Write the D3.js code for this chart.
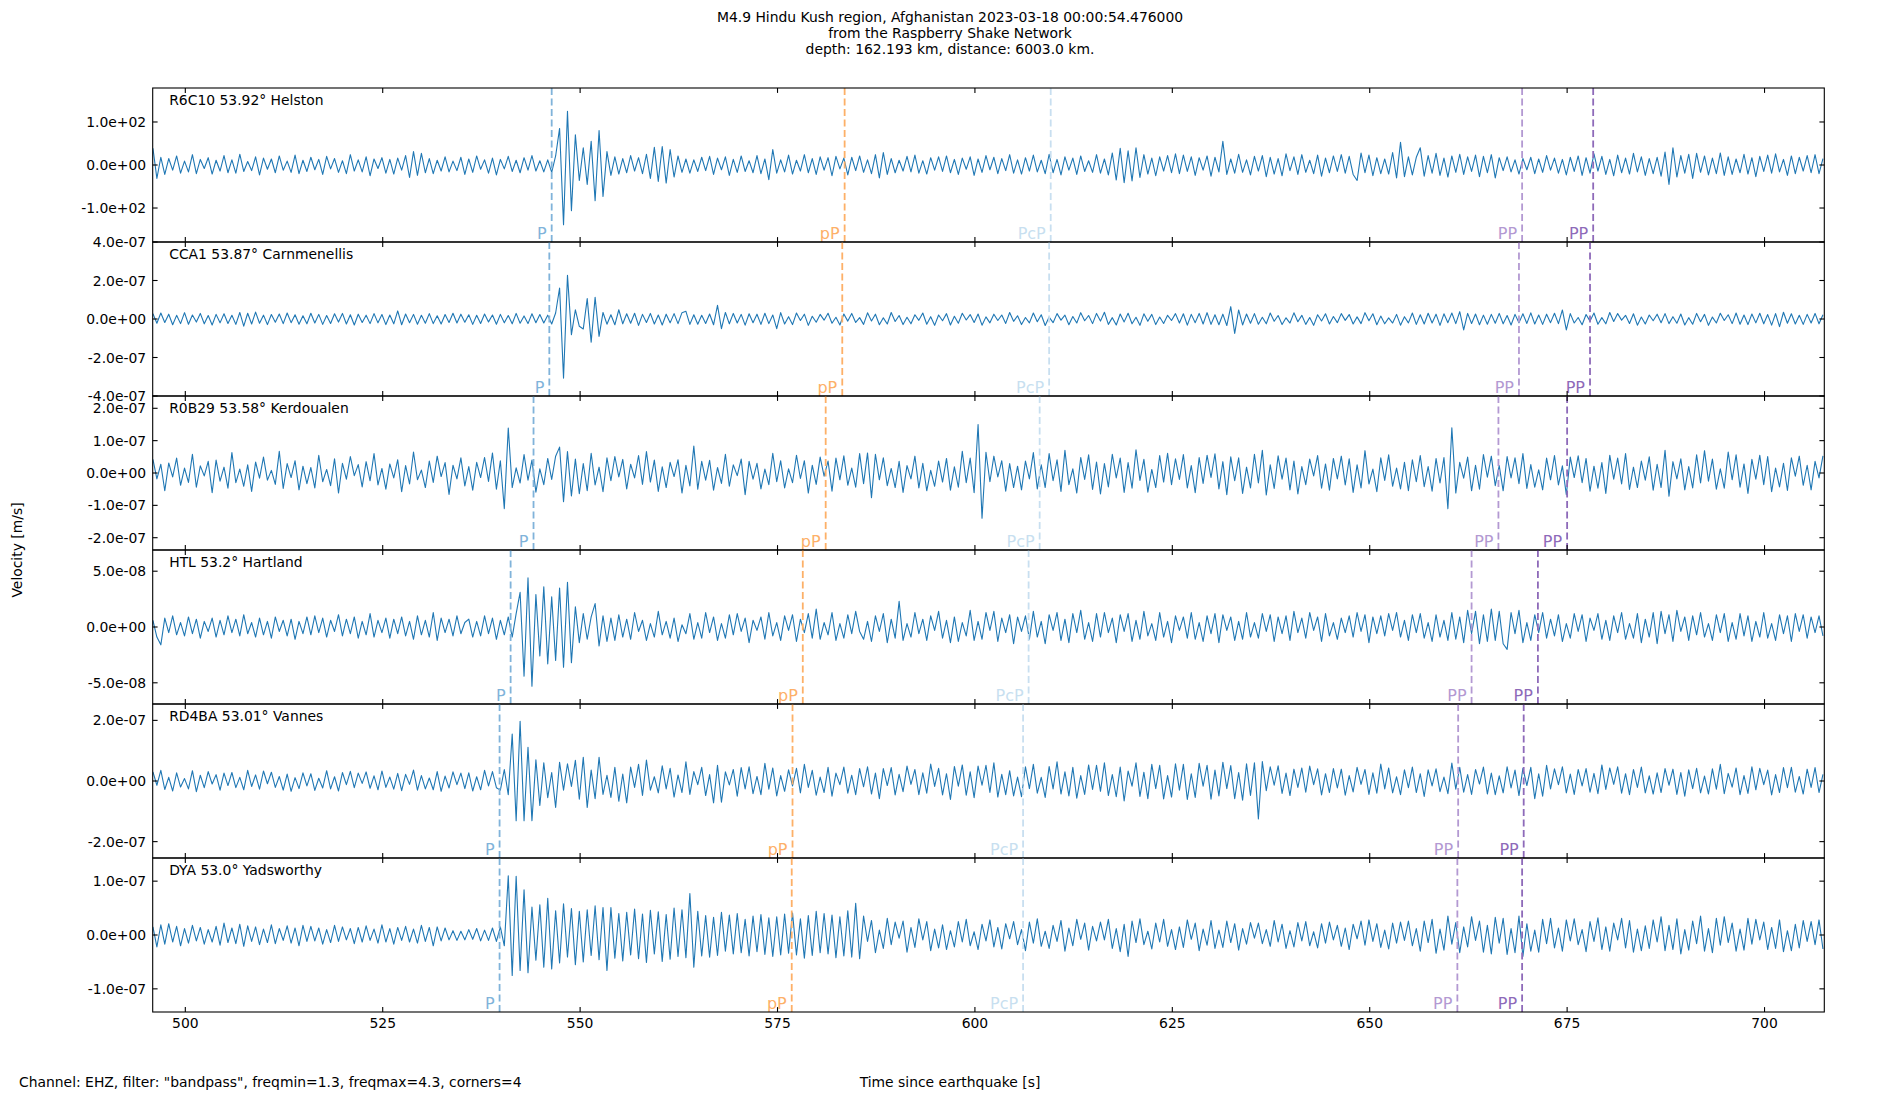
<!DOCTYPE html>
<html>
<head>
<meta charset="utf-8">
<script src="https://d3js.org/d3.v7.min.js"></script>
<style>
  body { margin: 0; background: #fff; }
  text { font-family: "DejaVu Sans", sans-serif; fill: #000; }
</style>
</head>
<body>
<div id="chart"></div>
<script>
// ---- data ----
var titleLines = ["M4.9 Hindu Kush region, Afghanistan 2023-03-18 00:00:54.476000",
                  "from the Raspberry Shake Network",
                  "depth: 162.193 km, distance: 6003.0 km."];
var stations  = ["R6C10", "CCA1", "R0B29", "HTL", "RD4BA", "DYA"];
var distances = ["53.92", "53.87", "53.58", "53.2", "53.01", "53.0"];
var places    = ["Helston", "Carnmenellis", "Kerdoualen", "Hartland", "Vannes", "Yadsworthy"];

// trace values: R6C10 in raw units, the others in nm/s (x 1e-9 m/s)
var unitScale = [1, 1e-9, 1e-9, 1e-9, 1e-9, 1e-9];
var yLimits   = [179, 400, 238, 69, 254, 143];
var yTicks    = [[-100, 0, 100], [-400, -200, 0, 200, 400], [-200, -100, 0, 100, 200],
                 [-50, 0, 50], [-200, 0, 200], [-100, 0, 100]];
var xTicks    = [500, 525, 550, 575, 600, 625, 650, 675, 700];
var xStart = 495.87, xEnd = 707.57;
var t0 = 495.9, dt = 0.5;

var phaseNames  = ["P", "pP", "PcP", "PP", "PP"];
var phaseColors = ["#80b3da", "#fdb068", "#c8dff0", "#b399d2", "#8e6ab9"];
var arrivals = [
  [546.4, 583.5, 609.6, 669.3, 678.3],
  [546.1, 583.2, 609.4, 668.9, 677.9],
  [544.1, 581.1, 608.2, 666.3, 675.0],
  [541.2, 578.2, 606.8, 662.9, 671.3],
  [539.8, 576.9, 606.1, 661.2, 669.5],
  [539.8, 576.8, 606.1, 661.1, 669.3]
];

var helston = [
  39,-31,18,-22,15,-12,21,-19,9,-16,24,-20,13,-8,17,-21,11,-14,22,-18,
  12,-19,25,-15,8,-13,19,-23,16,-10,14,-18,21,-12,9,-17,23,-20,11,-15,
  18,-11,13,-22,20,-9,15,-17,10,-20,24,-14,12,-16,19,-25,14,-8,17,-19,
  13,-21,16,-12,22,-29,31,-24,27,-18,15,-20,11,-14,19,-16,9,-13,18,-22,
  14,-17,21,-10,12,-19,16,-23,13,-9,20,-15,11,-18,17,-12,22,-14,10,-16,
  12,-17,21,85,-139,125,-106,70,-36,40,-45,55,-83,80,-73,31,-24,19,-21,15,
  -18,22,-14,17,-20,25,-31,41,-38,43,-42,36,-28,21,-17,14,-19,12,-15,18,
  -13,20,-22,16,-11,19,-24,13,-17,21,-15,10,-18,22,-20,14,-34,36,-19,12,
  -16,23,-21,11,-14,24,-18,15,-22,19,-12,17,-25,20,-9,16,-23,18,-13,21,
  -17,12,-20,24,-30,29,-22,15,-18,11,-14,20,-16,23,-19,10,-21,17,-12,19,
  -15,21,-18,13,-22,16,-10,19,-24,14,-17,22,-11,18,-20,15,-13,24,-19,12,
  -21,17,-14,23,-16,11,-20,25,-18,13,-23,19,-12,16,-22,21,-15,10,-17,24,
  -19,14,-23,28,-35,39,-41,33,-37,40,-29,24,-21,16,-25,19,-14,22,-18,26,
  -20,23,-15,19,-24,17,-12,21,-26,18,-16,55,-22,14,-19,25,-17,12,-23,20,
  -14,22,-27,18,-21,15,-25,26,-13,19,-22,24,-17,11,-20,23,-26,16,-18,21,
  -15,24,-19,20,-22,-36,28,-18,23,-25,17,-20,14,-21,29,-30,53,-27,19,-23,
  18,40,-26,22,-19,27,-24,16,-28,21,-17,25,-22,19,-15,23,-27,20,-18,24,
  -30,17,-13,19,-16,12,-21,15,-11,18,-20,14,-17,22,-12,16,-19,13,-23,18,
  -15,21,-24,17,-19,26,-14,20,-22,13,-25,23,-18,16,-21,27,-16,19,-24,15,
  -20,18,-26,30,-45,40,-28,22,-19,25,-31,27,-17,21,-23,16,-20,28,-24,19,
  -22,14,-18,25,-21,17,-27,20,-15,23,-19,26,-16,13,-24,21,-20,18,-14,22,
  -18,24,-20,15
];

var carnmenellis = [
  28,-22,31,-18,25,-30,19,-24,33,-27,21,-16,29,-25,18,-31,24,-20,27,-23,
  19,-28,34,-37,30,-26,36,-22,20,-29,23,-17,26,-24,31,-19,22,-27,17,-25,
  30,-21,24,-28,18,-23,27,-16,29,-26,22,-31,25,-18,20,-24,28,-20,23,-29,
  21,-25,42,-30,26,-19,24,-27,19,-22,28,-24,17,-26,23,-18,30,-21,25,-17,
  22,-28,19,-23,26,-15,21,-27,24,-20,18,-25,29,-22,16,-24,27,-19,23,-21,
  20,-26,31,161,-307,227,-81,48,-38,-52,106,-120,113,-90,34,-27,22,-30,48,-25,
  27,-22,30,-33,24,-18,29,-26,21,-31,25,-20,28,-24,33,40,-28,22,-27,19,
  -23,26,-30,71,-50,34,-25,29,-21,24,-32,27,-19,25,-28,30,-24,21,-50,33,
  -26,12,-29,31,-8,25,-33,14,-17,24,-6,30,-22,9,-31,26,-11,29,-18,7,
  -28,32,-10,25,-30,6,-26,34,-13,18,-29,9,-25,22,-7,31,-27,12,-33,21,
  -9,28,-31,14,-22,30,-5,23,-18,26,-32,11,-20,25,-8,21,-23,34,-12,17,
  -29,8,-20,31,-14,22,-34,10,-19,28,-6,20,-30,13,-21,33,-9,18,-24,29,
  -11,35,-28,7,-31,26,-15,30,-25,9,-33,27,-12,24,-29,10,-23,19,-8,28,
  -21,27,-32,24,-19,29,-26,33,-28,22,-30,25,-34,64,-75,47,-31,26,-22,28,
  -27,9,-25,31,-12,18,-29,6,-21,32,-14,19,-28,8,-33,22,-10,27,-26,13,
  -19,28,-7,23,-26,11,-24,33,-9,27,-30,15,-25,6,-21,24,-32,12,-20,31,
  -28,22,-26,30,-21,25,-33,27,-19,31,-24,38,-57,29,-23,26,-30,20,-27,24,
  -22,29,-25,18,-31,24,-20,27,-23,32,-26,21,-28,25,-19,30,-24,47,-57,28,
  -21,8,-30,23,-11,31,-27,7,-25,34,-13,28,-6,19,-23,27,-32,10,-26,21,
  -9,25,-19,28,-24,12,-22,26,-31,7,-27,29,-14,24,-33,10,-21,30,-8,22,
  -24,31,-27,21,-29,26,-20,30,-25,23,-32,28,-40,35,-22,27,-26,19,-28,24,
  -21,29,-25,22
];

var kerdoualen = [
  42,-18,27,-55,31,-12,46,-38,15,-29,58,-44,22,-9,36,-61,40,-25,18,-47,
  63,-30,12,-41,25,-57,34,-16,49,-22,8,-35,67,-48,29,-14,38,-52,21,-33,
  17,-46,55,-27,11,-39,44,-62,30,-19,51,-8,26,-43,35,-24,60,-37,14,-50,
  28,-15,41,-58,23,-34,65,-21,9,-45,37,-29,52,-11,32,-66,24,-18,47,-40,
  20,-53,33,-14,48,-26,62,-50,38,-110,139,-45,16,-31,57,-22,40,-59,13,-36,
  45,-20,52,80,-89,66,-71,43,-64,29,-55,61,-37,18,-58,47,-24,51,-12,42,
  -49,27,-15,54,-35,66,-28,40,-57,19,-45,33,-11,41,-62,24,-40,83,-50,36,
  -22,39,-53,17,-32,58,-41,25,-8,43,-67,36,-19,30,-49,12,-36,61,-27,38,
  -46,13,-30,55,-17,38,-62,24,-35,49,-10,37,-56,46,-21,53,-38,15,-44,60,
  -33,62,-76,58,-21,47,-39,14,-45,36,-60,23,-18,52,-46,30,-55,8,-41,37,
  -28,45,-53,19,-44,67,-30,46,-61,150,-140,64,-27,52,-12,38,-56,29,-45,21,
  -52,37,-18,63,-49,25,-45,60,-24,41,-57,70,-36,13,-62,48,-20,56,-51,34,
  -65,29,-43,58,-15,46,-60,32,-47,72,-23,42,-59,11,-45,54,-28,61,-36,44,
  -20,57,-46,23,-61,48,-32,55,-14,59,-49,35,-67,50,-24,47,-63,18,-46,58,
  -31,70,-68,25,-48,53,-19,46,-52,37,-65,20,-36,43,-9,54,-47,28,-53,45,
  -18,52,-37,44,-60,25,-46,69,-34,12,-58,47,-23,56,-41,15,-49,33,-55,41,
  -27,54,-42,20,-56,45,-31,48,-110,140,-62,33,-16,49,-55,24,-50,57,-13,52,
  -39,23,-55,51,-15,47,-33,60,-48,26,-44,10,-52,46,-21,54,-37,22,-67,49,
  -14,53,-30,45,-56,21,-47,32,-63,55,-19,46,-34,60,-51,18,-45,37,-22,50,
  -53,27,-45,70,-72,35,-18,44,-52,20,-46,56,-31,69,-25,43,-50,13,-47,65,
  -21,56,-44,28,-63,42,-19,55,-36,51,-58,15,-43,30,-54,47,-10,52,-38,24,
  -52,36,-15,53
];

var hartland = [
  6,-9,-16,8,-5,10,-7,4,-8,9,-6,7,-10,5,-4,8,-9,6,-7,10,
  -5,7,-8,11,-6,4,-9,8,-7,5,-10,9,-4,6,-8,7,-11,5,-6,9,
  -7,10,-5,8,-9,6,-4,11,-8,7,-6,9,-10,5,-7,12,-9,6,-5,8,
  -10,7,-6,9,-8,5,-11,10,-7,6,-9,13,-12,8,-5,7,-8,10,-6,4,
  7,-9,5,-8,10,-6,8,-11,6,-7,9,-9,12,31,-44,44,-53,29,-26,36,
  -33,27,-30,35,-36,40,-32,18,-14,12,-11,9,21,-17,10,-13,8,-12,11,-9,
  7,-11,13,-4,6,-12,3,-9,14,-7,5,-10,8,-13,2,-6,12,-11,4,-10,
  13,-5,9,-12,3,-10,11,-7,12,-4,8,-14,6,-3,9,-11,13,-8,4,-12,
  10,-3,11,-13,7,-5,12,-10,16,-11,4,-7,13,-12,3,-10,11,-6,14,-4,
  -11,5,-13,10,-4,12,-14,7,-10,23,-12,3,-9,13,-6,7,-12,10,-3,14,
  -10,6,-14,9,-13,4,-8,15,-12,5,-11,13,-3,14,-13,8,-5,11,-15,9,
  -4,10,-11,14,-9,5,-15,11,-3,13,-12,7,-14,12,-5,15,-11,4,-13,12,
  -9,13,-5,8,-14,11,-4,12,-13,6,-11,14,-8,3,-12,13,-9,5,-14,10,
  -3,9,-10,13,-11,4,-13,10,-6,12,-14,11,-3,9,-12,5,-11,13,-9,4,
  -10,12,-4,11,-13,9,-6,10,-12,14,-5,8,-10,13,-3,9,-13,12,-8,4,
  -11,8,-5,10,-9,13,-4,11,-14,9,-6,10,-8,12,-3,13,-9,6,-12,11,
  -5,12,-10,4,-13,11,-9,6,-12,13,-11,9,-14,15,-6,14,-15,11,-13,16,
  -12,14,-15,-20,13,-6,15,-14,4,-12,11,-5,13,-10,7,-8,11,-13,3,-10,
  12,-4,11,-13,8,-3,12,-11,6,-12,10,-5,13,-11,3,-10,12,-14,7,-9,
  13,-15,14,-6,11,-13,15,-4,9,-12,10,-7,13,-9,3,-12,11,-5,12,-13,
  4,-11,12,-8,10,-13,5,-9,13,-10,3,-12,11,-6,10,-13,12,-4,11,-10,
  9,-5,10,-8
];

var vannes = [
  30,-14,35,-28,12,-33,27,-20,8,-26,34,-35,19,-22,31,-10,21,-30,26,-15,
  28,-22,12,-29,35,-18,20,-27,33,-9,29,-21,15,-30,23,-34,11,-25,27,-16,
  24,-31,9,-23,34,-26,14,-33,28,-12,32,-22,26,-8,30,-24,17,-29,33,-21,
  13,-27,25,-32,22,-11,36,-30,18,-26,10,-29,31,-34,16,-23,30,-12,26,-25,
  27,-33,14,-29,35,-16,31,-22,-30,38,-45,155,-131,197,-131,111,-131,70,-81,60,
  -55,28,-87,62,-30,57,-18,68,-60,78,-87,36,-58,78,-44,19,-54,45,-67,23,
  -72,46,-21,55,-48,69,-30,14,-39,50,-26,42,-53,20,-38,63,-44,31,-12,45,
  -48,21,-72,52,-70,30,-13,38,-50,44,-26,47,-42,15,-45,58,-27,43,-49,18,
  -34,37,-16,42,-39,55,-21,35,-47,13,-38,45,-50,26,-12,46,-40,19,-45,41,
  -19,47,-43,26,-58,41,-15,44,-46,22,-35,49,-11,38,-45,27,-40,56,-18,42,
  -46,24,-61,48,-17,53,-47,30,-55,49,-14,52,-38,60,-53,22,-45,34,-49,13,
  -52,47,-25,55,-40,12,-54,48,-26,63,-43,30,-49,45,-57,18,-44,53,-28,52,
  -34,60,-48,21,-52,46,-66,33,-17,60,-51,29,-58,55,-25,52,-59,18,-53,57,
  -30,55,-61,24,-54,58,-17,52,-60,36,-49,62,-25,51,-58,28,-63,57,-48,60,
  -125,64,-32,47,-14,50,-41,26,-48,39,-21,43,-37,49,-12,40,-46,24,-38,41,
  -23,39,-47,18,-36,45,-11,38,-44,27,-40,56,-26,43,-39,14,-45,37,-22,46,
  -38,24,-51,37,-16,40,-35,13,-42,59,-27,45,-37,21,-44,38,-10,46,-43,26,
  -45,17,-39,47,-23,36,-48,42,-15,45,-58,24,-50,52,-26,40,-12,47,-39,23,
  -44,38,-16,41,-37,25,-42,53,-28,43,-11,47,-40,24,-45,38,-21,46,-39,17,
  -43,27,-38,41,-14,39,-44,28,-50,37,-25,42,-39,16,-43,40,-27,55,-42,25,
  -20,43,-45,18,-41,47,-29,42,-12,36,-46,21,-38,44,-22,45,-37,15,-43,39,
  -21,44,-38,22
];

var yadsworthy = [
  15,-22,19,-17,21,-13,16,-20,12,-15,18,-11,14,-17,10,-13,16,-19,22,-14,
  13,-16,20,-21,17,-12,15,-18,11,-14,19,-16,12,-10,17,-15,13,-20,18,-12,
  16,-11,13,-17,10,-14,18,-12,15,-9,12,-16,14,-13,17,-10,11,-15,19,-13,
  12,-17,14,-10,16,-13,11,-15,18,-12,14,-20,15,-11,13,-9,8,-10,7,-9,
  10,-8,12,-11,9,-10,13,-12,15,-20,110,-75,109,-66,84,-70,52,-47,56,-60,
  68,-63,45,-52,58,-41,49,-55,44,-50,47,-38,54,-46,51,-66,51,-43,40,-48,
  42,-37,48,-44,39,-51,46,-35,43,-49,38,-45,50,-40,47,-42,77,-60,44,-39,
  36,-41,33,-38,42,-30,37,-35,40,-33,29,-39,35,-31,38,-36,32,-40,34,-37,
  39,-34,41,-37,30,-43,36,-38,44,-33,40,-35,37,-42,34,-39,45,-41,59,-44,
  35,-12,27,-33,9,-25,31,-18,24,-6,26,-32,14,-23,30,-9,25,-29,11,-24,
  19,-27,8,-22,25,-13,29,-20,6,-27,20,-11,28,-22,14,-26,21,-7,25,-18,
  10,-29,24,-15,30,-21,7,-25,18,-12,27,-30,13,-20,29,-8,22,-28,16,-11,
  24,-9,29,-25,12,-31,20,-40,26,-14,30,-18,7,-26,22,-13,29,-21,10,-27,
  15,-23,28,-8,22,-29,11,-19,27,-25,9,-23,26,-14,21,-28,12,-17,23,-6,
  22,-16,10,-21,27,-13,20,-25,8,-22,23,-11,25,-20,6,-24,21,-15,24,-9,
  18,-21,13,-27,20,-7,26,-19,28,-12,21,-23,9,-26,22,-15,24,-10,26,-20,
  12,-30,26,-14,29,-34,11,-28,35,-17,23,-33,15,-22,34,-10,26,-32,18,-35,
  33,-15,31,-36,12,-33,35,-40,21,-30,9,-32,29,-16,31,-24,13,-30,28,-11,
  30,-18,10,-31,25,-12,32,-27,15,-30,22,-9,31,-24,27,-32,11,-29,17,-25,
  28,-13,34,-29,18,-27,30,-35,10,-28,26,-16,35,-30,12,-33,31,-19,34,-14,
  22,-30,11,-28,31,-17,29,-9,24,-27,14,-25,28,-31,8,-29,20,-24,27,-12,
  25,-18,28,-26
];

var traces = [helston, carnmenellis, kerdoualen, hartland, vannes, yadsworthy];

// ---- layout ----
var W = 1900, H = 1100;
var plotLeft = 152.7, plotRight = 1824.3, plotTop = 88, plotBottom = 1012;
var panelH = (plotBottom - plotTop) / stations.length;

var svg = d3.select("#chart").append("svg")
  .attr("width", W).attr("height", H)
  .attr("viewBox", "0 0 " + W + " " + H);

var x = d3.scaleLinear().domain([xStart, xEnd]).range([plotLeft, plotRight]);

function fmtExp(v) {
  var s = v.toExponential(1);
  return s.replace(/e([+-])(\d)$/, "e$10$2");
}

// title
svg.append("g").selectAll("text").data(titleLines).enter().append("text")
  .attr("x", W / 2).attr("y", function (d, i) { return 22 + i * 16; })
  .attr("text-anchor", "middle").style("font-size", "13.9px")
  .text(function (d) { return d; });

stations.forEach(function (st, p) {
  var y0 = plotTop + p * panelH;
  var y = d3.scaleLinear().domain([-yLimits[p], yLimits[p]]).range([y0 + panelH, y0]);
  var g = svg.append("g");

  g.append("clipPath").attr("id", "clip" + p).append("rect")
    .attr("x", plotLeft).attr("y", y0).attr("width", plotRight - plotLeft).attr("height", panelH);

  // trace
  var line = d3.line()
    .x(function (d, i) { return x(t0 + i * dt); })
    .y(function (d) { return y(d); });
  g.append("path").datum(traces[p])
    .attr("clip-path", "url(#clip" + p + ")")
    .attr("d", line)
    .attr("fill", "none").attr("stroke", "#1f77b4").attr("stroke-width", 1.1)
    .attr("stroke-linejoin", "round");

  // phase arrivals
  arrivals[p].forEach(function (tt, k) {
    g.append("line")
      .attr("x1", x(tt)).attr("x2", x(tt)).attr("y1", y0).attr("y2", y0 + panelH)
      .attr("stroke", phaseColors[k]).attr("stroke-width", 1.8)
      .attr("stroke-dasharray", "7,3.5");
    g.append("text")
      .attr("x", x(tt) - 5).attr("y", y0 + panelH - 3.5)
      .attr("text-anchor", "end").style("font-size", "16px")
      .style("fill", phaseColors[k])
      .text(phaseNames[k]);
  });

  // frame
  g.append("rect").attr("x", plotLeft).attr("y", y0).attr("width", plotRight - plotLeft).attr("height", panelH)
    .attr("fill", "none").attr("stroke", "#000").attr("stroke-width", 1.1);

  // y ticks, inward on both sides
  var yt = g.append("g");
  yTicks[p].forEach(function (v) {
    yt.append("line").attr("x1", plotLeft).attr("x2", plotLeft + 4.9).attr("y1", y(v)).attr("y2", y(v))
      .attr("stroke", "#000").attr("stroke-width", 1.1);
    yt.append("line").attr("x1", plotRight).attr("x2", plotRight - 4.9).attr("y1", y(v)).attr("y2", y(v))
      .attr("stroke", "#000").attr("stroke-width", 1.1);
    yt.append("text").attr("x", plotLeft - 6.5).attr("y", y(v)).attr("dy", "0.36em")
      .attr("text-anchor", "end").style("font-size", "13.9px")
      .text(fmtExp(v * unitScale[p]));
  });

  // x ticks, inward top and bottom
  xTicks.forEach(function (v) {
    g.append("line").attr("x1", x(v)).attr("x2", x(v)).attr("y1", y0).attr("y2", y0 + 4.9)
      .attr("stroke", "#000").attr("stroke-width", 1.1);
    g.append("line").attr("x1", x(v)).attr("x2", x(v)).attr("y1", y0 + panelH).attr("y2", y0 + panelH - 4.9)
      .attr("stroke", "#000").attr("stroke-width", 1.1);
  });

  // station label
  g.append("text").attr("x", plotLeft + 16.5).attr("y", y0 + 16.5)
    .style("font-size", "13.9px")
    .text(st + " " + distances[p] + "\u00b0 " + places[p]);
});

// bottom x tick labels
svg.append("g").selectAll("text").data(xTicks).enter().append("text")
  .attr("x", function (d) { return x(d); }).attr("y", plotBottom + 16)
  .attr("text-anchor", "middle").style("font-size", "13.9px")
  .text(function (d) { return d; });

// axis labels and footer
svg.append("text").attr("transform", "translate(22," + ((plotTop + plotBottom) / 2) + ") rotate(-90)")
  .attr("text-anchor", "middle").style("font-size", "13.9px").text("Velocity [m/s]");
svg.append("text").attr("x", W / 2).attr("y", 1087).attr("text-anchor", "middle")
  .style("font-size", "13.9px").text("Time since earthquake [s]");
svg.append("text").attr("x", 19).attr("y", 1087)
  .style("font-size", "13.9px")
  .text("Channel: EHZ, filter: \"bandpass\", freqmin=1.3, freqmax=4.3, corners=4");
</script>
</body>
</html>
